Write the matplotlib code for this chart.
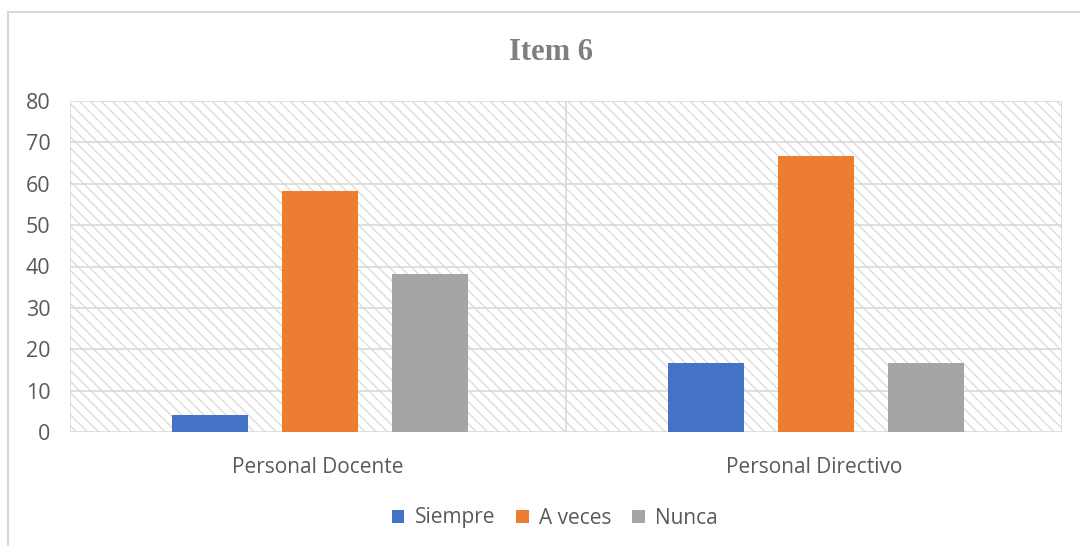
import matplotlib
matplotlib.use("Agg")
import matplotlib.pyplot as plt
import numpy as np
from matplotlib.patches import Rectangle

# data
categories = ["Personal Docente", "Personal Directivo"]
series_names = ["Siempre", "A veces", "Nunca"]
siempre = [4.2, 16.7]
a_veces = [58.3, 66.7]
nunca = [38.3, 16.7]
y_ticks = [0, 10, 20, 30, 40, 50, 60, 70, 80]

colors = ["#4472C4", "#ED7D31", "#A5A5A5"]
grid_col = "#D9D9D9"
text_col = "#595959"

plt.rcParams["font.family"] = ["Open Sans", "DejaVu Sans"]
plt.rcParams["hatch.color"] = grid_col
plt.rcParams["hatch.linewidth"] = 0.9

fig = plt.figure(figsize=(10.8, 5.46), dpi=100)
ax = fig.add_axes([70 / 1080, 1 - 432 / 546, 992 / 1080, 331 / 546])

# outer chart border (runs off the right and bottom of the picture)
fig.patches.append(Rectangle((8 / 1080, -0.1), 1.2, 1 - 12 / 546 + 0.1,
                             transform=fig.transFigure, fill=False,
                             edgecolor=grid_col, linewidth=1.5))

# hatched plot area
ax.patch.set_visible(False)
ax.add_patch(Rectangle((0, 0), 1, 1, transform=ax.transAxes, facecolor="white",
                       hatch="\\\\\\", edgecolor=grid_col, linewidth=1.2, zorder=0))

x = np.arange(len(categories))
width = 0.153
step = 0.222
for i, (name, vals) in enumerate(zip(series_names, [siempre, a_veces, nunca])):
    ax.bar(x + (i - 1) * step + 0.004, vals, width, color=colors[i], label=name, zorder=3)

ax.set_xlim(-0.5, 1.5)
ax.set_ylim(0, 80)
ax.set_yticks(y_ticks)
for t in y_ticks[1:-1]:
    ax.axhline(t, color=grid_col, linewidth=1.2, zorder=1)
ax.axvline(0.5, color=grid_col, linewidth=1.2, zorder=1)

for s in ax.spines.values():
    s.set_visible(False)
ax.tick_params(axis="both", length=0, colors=text_col)
ax.tick_params(axis="y", pad=14, labelsize=15.5)
ax.tick_params(axis="x", pad=18, labelsize=15)
ax.set_xticks(x)
ax.set_xticklabels(categories)

fig.text(551 / 1080, 1 - 52 / 546, "Item 6", ha="center", va="center",
         fontsize=22, fontweight="bold", family="Liberation Serif", color="#7F7F7F")

fig.legend(loc="center", bbox_to_anchor=(555 / 1080, 1 - 518 / 546), ncol=3,
           frameon=False, fontsize=15, handlelength=0.6, handleheight=0.6,
           handletextpad=0.5, columnspacing=1.0, labelcolor=text_col)

fig.savefig("out.png", dpi=100)
